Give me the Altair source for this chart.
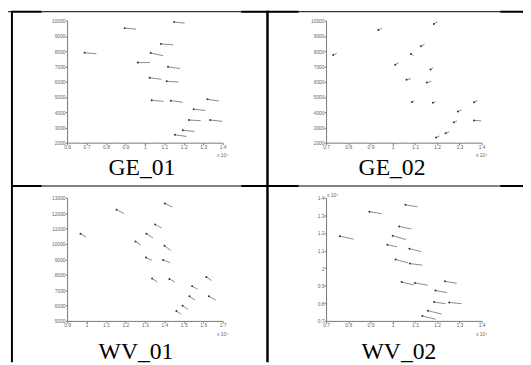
import altair as alt
import pandas as pd

# ---------------- data ----------------
captions = ["GE_01", "GE_02", "WV_01", "WV_02"]

ge_x_ticks = [0.6, 0.7, 0.8, 0.9, 1.0, 1.1, 1.2, 1.3, 1.4]
ge2_x_ticks = [0.7, 0.8, 0.9, 1.0, 1.1, 1.2, 1.3, 1.4]
ge_y_ticks = [2000, 3000, 4000, 5000, 6000, 7000, 8000, 9000, 10000]
wv1_x_ticks = [0.9, 1.0, 1.1, 1.2, 1.3, 1.4, 1.5, 1.6, 1.7]
wv1_y_ticks = [5000, 6000, 7000, 8000, 9000, 10000, 11000, 12000, 13000]
wv2_x_ticks = [0.7, 0.8, 0.9, 1.0, 1.1, 1.2, 1.3, 1.4]
wv2_y_ticks = [0.7, 0.8, 0.9, 1.0, 1.1, 1.2, 1.3, 1.4]

# GE_01 vectors (start -> end)
ge01_x0 = [1.150, 0.896, 1.082, 0.690, 1.030, 0.964, 1.119, 1.025, 1.112, 1.035, 1.133, 1.322, 1.251, 1.227, 1.336, 1.195, 1.155]
ge01_y0 = [9914, 9505, 8473, 7892, 7871, 7247, 6968, 6258, 6022, 4774, 4753, 4839, 4194, 3484, 3484, 2817, 2516]
ge01_x1 = [1.204, 0.955, 1.145, 0.751, 1.094, 1.026, 1.180, 1.085, 1.173, 1.096, 1.195, 1.381, 1.310, 1.287, 1.398, 1.255, 1.214]
ge01_y1 = [9828, 9441, 8409, 7828, 7699, 7247, 6860, 6151, 5978, 4710, 4645, 4731, 4108, 3441, 3398, 2731, 2409]

# GE_02 vectors
ge02_x0 = [1.185, 0.935, 1.127, 1.082, 0.732, 1.011, 1.170, 1.062, 1.153, 1.086, 1.181, 1.366, 1.293, 1.275, 1.366, 1.238, 1.195]
ge02_y0 = [9780, 9380, 8320, 7810, 7740, 7110, 6800, 6130, 5940, 4660, 4620, 4650, 4040, 3330, 3460, 2620, 2340]
ge02_x1 = [1.201, 0.951, 1.143, 1.093, 0.748, 1.027, 1.182, 1.082, 1.173, 1.098, 1.193, 1.382, 1.309, 1.289, 1.398, 1.254, 1.211]
ge02_y1 = [9910, 9500, 8440, 7710, 7860, 7240, 6900, 6190, 6000, 4730, 4690, 4750, 4140, 3430, 3430, 2720, 2440]

# WV_01 vectors
wv01_x0 = [1.403, 1.154, 1.353, 1.308, 0.969, 1.252, 1.401, 1.306, 1.394, 1.337, 1.426, 1.616, 1.543, 1.529, 1.629, 1.494, 1.462]
wv01_y0 = [12633, 12228, 11269, 10672, 10672, 10160, 9883, 9115, 8966, 7750, 7729, 7857, 7260, 6599, 6599, 5981, 5640]
wv01_x1 = [1.442, 1.194, 1.386, 1.342, 0.998, 1.279, 1.433, 1.338, 1.430, 1.364, 1.455, 1.643, 1.572, 1.557, 1.665, 1.523, 1.487]
wv01_y1 = [12399, 11972, 11034, 10394, 10437, 9925, 9584, 8923, 8774, 7537, 7516, 7623, 7047, 6365, 6365, 5746, 5426]

# WV_02 vectors (x 10^4)
wv02_x0 = [1.057, 0.895, 1.029, 0.762, 1.000, 0.976, 1.075, 1.013, 1.077, 1.040, 1.100, 1.235, 1.192, 1.186, 1.254, 1.158, 1.133]
wv02_y0 = [1.360, 1.321, 1.237, 1.182, 1.184, 1.133, 1.111, 1.049, 1.026, 0.921, 0.916, 0.925, 0.873, 0.807, 0.805, 0.758, 0.728]
wv02_x1 = [1.111, 0.950, 1.083, 0.824, 1.059, 1.019, 1.128, 1.069, 1.133, 1.094, 1.158, 1.288, 1.244, 1.238, 1.310, 1.220, 1.193]
wv02_y1 = [1.349, 1.310, 1.223, 1.165, 1.163, 1.122, 1.094, 1.030, 1.017, 0.905, 0.903, 0.914, 0.861, 0.798, 0.798, 0.739, 0.709]

W, H = 523, 357
SERIF = "Liberation Serif"
SANS = "Liberation Sans"


def axis(orient, offset, values, fmt):
    return alt.Axis(
        orient=orient, offset=offset, values=values, format=fmt, title="",
        grid=False, labelFlush=False, labelOverlap=False, labelBound=False,
        tickSize=2, labelPadding=0, labelFontSize=5, labelFont=SANS,
        labelColor="#666", domainColor="#777", tickColor="#777",
        domainWidth=1, tickWidth=1,
    )


def panel(x0, y0, x1, y1, xdom, xrng, ydom, yrng, xvals, yvals, xfmt, yfmt):
    df = pd.DataFrame({"x0": x0, "y0": y0, "x1": x1, "y1": y1})
    xs = alt.Scale(domain=xdom, range=xrng, nice=False, zero=False)
    ys = alt.Scale(domain=ydom, range=yrng, nice=False, zero=False)
    ax = axis("bottom", yrng[0] - H, xvals, xfmt)
    ay = axis("left", -xrng[0], yvals, yfmt)
    seg = alt.Chart(df).mark_rule(stroke="#8a8a8a", strokeWidth=1).encode(
        x=alt.X("x0:Q", scale=xs, axis=ax),
        y=alt.Y("y0:Q", scale=ys, axis=ay),
        x2="x1:Q", y2="y1:Q",
    )
    dot = alt.Chart(df).mark_circle(size=4, color="#333", opacity=1).encode(
        x=alt.X("x0:Q", scale=xs, axis=ax),
        y=alt.Y("y0:Q", scale=ys, axis=ay),
    )
    return alt.layer(seg, dot)


p1 = panel(ge01_x0, ge01_y0, ge01_x1, ge01_y1, [0.6, 1.4], [60, 218], [2000, 10000], [134, 10],
           ge_x_ticks, ge_y_ticks, "~g", "d")
p2 = panel(ge02_x0, ge02_y0, ge02_x1, ge02_y1, [0.7, 1.4], [323, 481], [2000, 10000], [134, 10],
           ge2_x_ticks, ge_y_ticks, "~g", "d")
p3 = panel(wv01_x0, wv01_y0, wv01_x1, wv01_y1, [0.9, 1.7], [60, 218], [5000, 13000], [315, 190],
           wv1_x_ticks, wv1_y_ticks, "~g", "d")
p4 = panel(wv02_x0, wv02_y0, wv02_x1, wv02_y1, [0.7, 1.4], [323, 481], [0.7, 1.4], [315, 190],
           wv2_x_ticks, wv2_y_ticks, "~g", "~g")

one = pd.DataFrame({"a": [0]})


def text(t, x, y, size, font, align="center", color="black"):
    return alt.Chart(one).mark_text(
        text=t, font=font, fontSize=size, align=align, baseline="alphabetic", color=color
    ).encode(x=alt.value(x), y=alt.value(y))


def hline(y, xa, xb, w):
    return alt.Chart(one).mark_rule(stroke="black", strokeWidth=w).encode(
        x=alt.value(xa), x2=alt.value(xb), y=alt.value(y))


def vline(x, ya, yb, w):
    return alt.Chart(one).mark_rule(stroke="black", strokeWidth=w).encode(
        x=alt.value(x), y=alt.value(ya), y2=alt.value(yb))


deco = [
    # table lines
    hline(1, 0, W, 1), hline(1, 4, 34, 2), hline(1, 237, 295, 2), hline(1, 500, W, 2),
    hline(178, 4, W, 1), hline(178, 4, 34, 2), hline(178, 237, 295, 2), hline(178, 500, W, 2),
    vline(4, 0, H, 2), vline(263.5, 0, H, 2.5),
    # captions
    text(captions[0], 136, 167, 24, SERIF),
    text(captions[1], 390, 167, 24, SERIF),
    text(captions[2], 130, 354, 24, SERIF),
    text(captions[3], 397, 354, 24, SERIF),
    # exponent notes
    text("x 10\u2074", 218, 149, 5, SANS, "center", "#666"),
    text("x 10\u2074", 481, 149, 5, SANS, "center", "#666"),
    text("x 10\u2074", 218, 330, 5, SANS, "center", "#666"),
    text("x 10\u2074", 481, 330, 5, SANS, "center", "#666"),
    text("x 10\u2074", 324, 189, 5, SANS, "left", "#666"),
]

chart = alt.layer(p1, p2, p3, p4, *deco).resolve_scale(
    x="independent", y="independent"
).resolve_axis(x="independent", y="independent").properties(
    width=W, height=H, padding=0, autosize=alt.AutoSizeParams(type="none"),
    background="white",
).configure_view(strokeWidth=0)

chart.save("out.html", embed_options={"renderer": "svg", "actions": False})
